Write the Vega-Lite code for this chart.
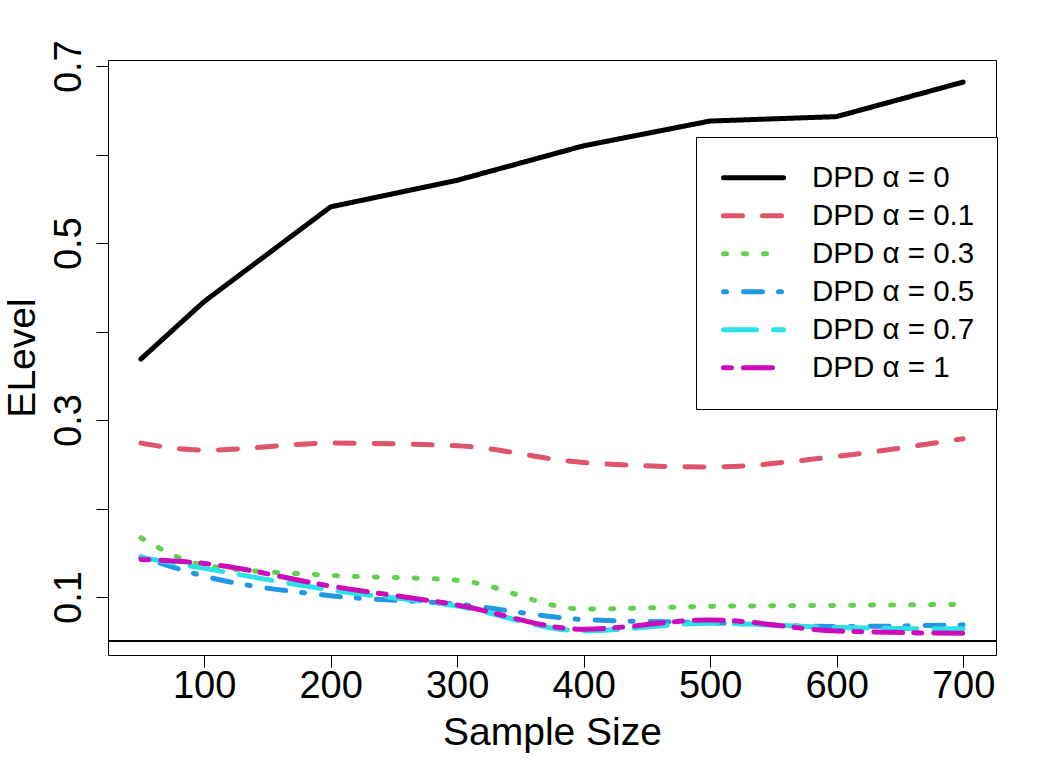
{
  "$schema": "https://vega.github.io/schema/vega-lite/v6.json",
  "autosize": "none",
  "width": 888,
  "height": 595,
  "padding": {"left": 108, "top": 60, "right": 61, "bottom": 108},
  "background": "white",
  "config": {
    "view": {"stroke": "black", "strokeWidth": 1},
    "font": "Liberation Sans",
    "axis": {"domain": false, "grid": false, "ticks": true, "tickColor": "black", "tickSize": 12, "tickWidth": 1, "labelColor": "black", "titleColor": "black", "labelFont": "Liberation Sans", "titleFont": "Liberation Sans", "titleFontWeight": "normal", "labelFontSize": 38, "titleFontSize": 39},
    "legend": {"labelFont": "Liberation Sans", "labelFontSize": 29.5, "labelColor": "black", "labelLimit": 500}
  },
  "data": {"values": [
    {"n": 50, "s": "DPD α = 0", "v": 0.369}, {"n": 100, "s": "DPD α = 0", "v": 0.434}, {"n": 200, "s": "DPD α = 0", "v": 0.541}, {"n": 300, "s": "DPD α = 0", "v": 0.571}, {"n": 400, "s": "DPD α = 0", "v": 0.610}, {"n": 500, "s": "DPD α = 0", "v": 0.638}, {"n": 600, "s": "DPD α = 0", "v": 0.643}, {"n": 700, "s": "DPD α = 0", "v": 0.682},
    {"n": 50, "s": "DPD α = 0.1", "v": 0.274}, {"n": 100, "s": "DPD α = 0.1", "v": 0.266}, {"n": 200, "s": "DPD α = 0.1", "v": 0.274}, {"n": 300, "s": "DPD α = 0.1", "v": 0.271}, {"n": 400, "s": "DPD α = 0.1", "v": 0.252}, {"n": 500, "s": "DPD α = 0.1", "v": 0.247}, {"n": 600, "s": "DPD α = 0.1", "v": 0.259}, {"n": 700, "s": "DPD α = 0.1", "v": 0.279},
    {"n": 50, "s": "DPD α = 0.3", "v": 0.167}, {"n": 100, "s": "DPD α = 0.3", "v": 0.136}, {"n": 200, "s": "DPD α = 0.3", "v": 0.1245}, {"n": 300, "s": "DPD α = 0.3", "v": 0.119}, {"n": 400, "s": "DPD α = 0.3", "v": 0.0865}, {"n": 500, "s": "DPD α = 0.3", "v": 0.0895}, {"n": 600, "s": "DPD α = 0.3", "v": 0.0906}, {"n": 700, "s": "DPD α = 0.3", "v": 0.0917},
    {"n": 50, "s": "DPD α = 0.5", "v": 0.1455}, {"n": 100, "s": "DPD α = 0.5", "v": 0.1237}, {"n": 200, "s": "DPD α = 0.5", "v": 0.1015}, {"n": 300, "s": "DPD α = 0.5", "v": 0.092}, {"n": 400, "s": "DPD α = 0.5", "v": 0.0746}, {"n": 500, "s": "DPD α = 0.5", "v": 0.071}, {"n": 600, "s": "DPD α = 0.5", "v": 0.0667}, {"n": 700, "s": "DPD α = 0.5", "v": 0.0686},
    {"n": 50, "s": "DPD α = 0.7", "v": 0.1448}, {"n": 100, "s": "DPD α = 0.7", "v": 0.1324}, {"n": 200, "s": "DPD α = 0.7", "v": 0.108}, {"n": 300, "s": "DPD α = 0.7", "v": 0.0898}, {"n": 400, "s": "DPD α = 0.7", "v": 0.0617}, {"n": 500, "s": "DPD α = 0.7", "v": 0.0704}, {"n": 600, "s": "DPD α = 0.7", "v": 0.0655}, {"n": 700, "s": "DPD α = 0.7", "v": 0.064},
    {"n": 50, "s": "DPD α = 1", "v": 0.1426}, {"n": 100, "s": "DPD α = 1", "v": 0.138}, {"n": 200, "s": "DPD α = 1", "v": 0.1124}, {"n": 300, "s": "DPD α = 1", "v": 0.091}, {"n": 400, "s": "DPD α = 1", "v": 0.0636}, {"n": 500, "s": "DPD α = 1", "v": 0.0742}, {"n": 600, "s": "DPD α = 1", "v": 0.0617}, {"n": 700, "s": "DPD α = 1", "v": 0.059}
  ]},
  "encoding": {
    "x": {"field": "n", "type": "quantitative", "scale": {"domain": [24, 726], "nice": false, "zero": false},
      "axis": {"values": [100, 200, 300, 400, 500, 600, 700], "title": "Sample Size", "labelPadding": 0, "labelBaseline": "top", "titleBaseline": "alphabetic", "titleY": 89}},
    "y": {"field": "v", "type": "quantitative", "scale": {"domain": [0.0345, 0.707], "nice": false, "zero": false},
      "axis": {"values": [0.1, 0.2, 0.3, 0.4, 0.5, 0.6, 0.7], "title": "ELevel", "labelAngle": -90, "labelAlign": "center", "labelBaseline": "alphabetic", "labelPadding": 16, "labelExpr": "round(datum.value*10) % 2 == 1 ? datum.label : ''", "titleBaseline": "alphabetic", "titleX": -74}},
    "color": {"field": "s", "type": "nominal", "scale": {"domain": ["DPD α = 0", "DPD α = 0.1", "DPD α = 0.3", "DPD α = 0.5", "DPD α = 0.7", "DPD α = 1"], "range": ["#000000", "#DF536B", "#61D04F", "#2297E6", "#28E2E5", "#CD0BBC"]},
      "legend": {"title": null, "orient": "none", "legendX": 588, "legendY": 77, "fillColor": "white", "strokeColor": "black", "padding": 22, "symbolType": "stroke", "symbolSize": 3600, "symbolStrokeWidth": 5, "symbolOffset": 3, "rowPadding": 0, "clipHeight": 37.6, "labelOffset": 26,
        "encode": {"symbols": {"update": {"strokeCap": {"value": "round"}}}}}},
    "strokeDash": {"field": "s", "type": "nominal", "scale": {"domain": ["DPD α = 0", "DPD α = 0.1", "DPD α = 0.3", "DPD α = 0.5", "DPD α = 0.7", "DPD α = 1"], "range": [[1, 0], [19, 20], [3, 17], [3, 17, 19, 16], [33, 17], [8, 12, 29, 11]]},
      "legend": {"title": null, "orient": "none", "legendX": 588, "legendY": 77, "fillColor": "white", "strokeColor": "black", "padding": 22, "symbolType": "stroke", "symbolSize": 3600, "symbolStrokeWidth": 5, "symbolOffset": 3, "rowPadding": 0, "clipHeight": 37.6, "labelOffset": 26,
        "encode": {"symbols": {"update": {"strokeCap": {"value": "round"}}}}}}
  },
  "layer": [
    {"mark": {"type": "rule", "color": "black", "strokeWidth": 1}, "encoding": {"y": {"datum": 0.05}, "color": null, "strokeDash": null, "x": null}},
    {"transform": [{"filter": "datum.s == 'DPD α = 0'"}], "mark": {"type": "line", "strokeWidth": 5, "strokeCap": "round", "strokeJoin": "round", "interpolate": "linear"}},
    {"transform": [{"filter": "datum.s != 'DPD α = 0'"}], "mark": {"type": "line", "strokeWidth": 5, "strokeCap": "round", "strokeJoin": "round", "interpolate": "monotone"}}
  ]
}
